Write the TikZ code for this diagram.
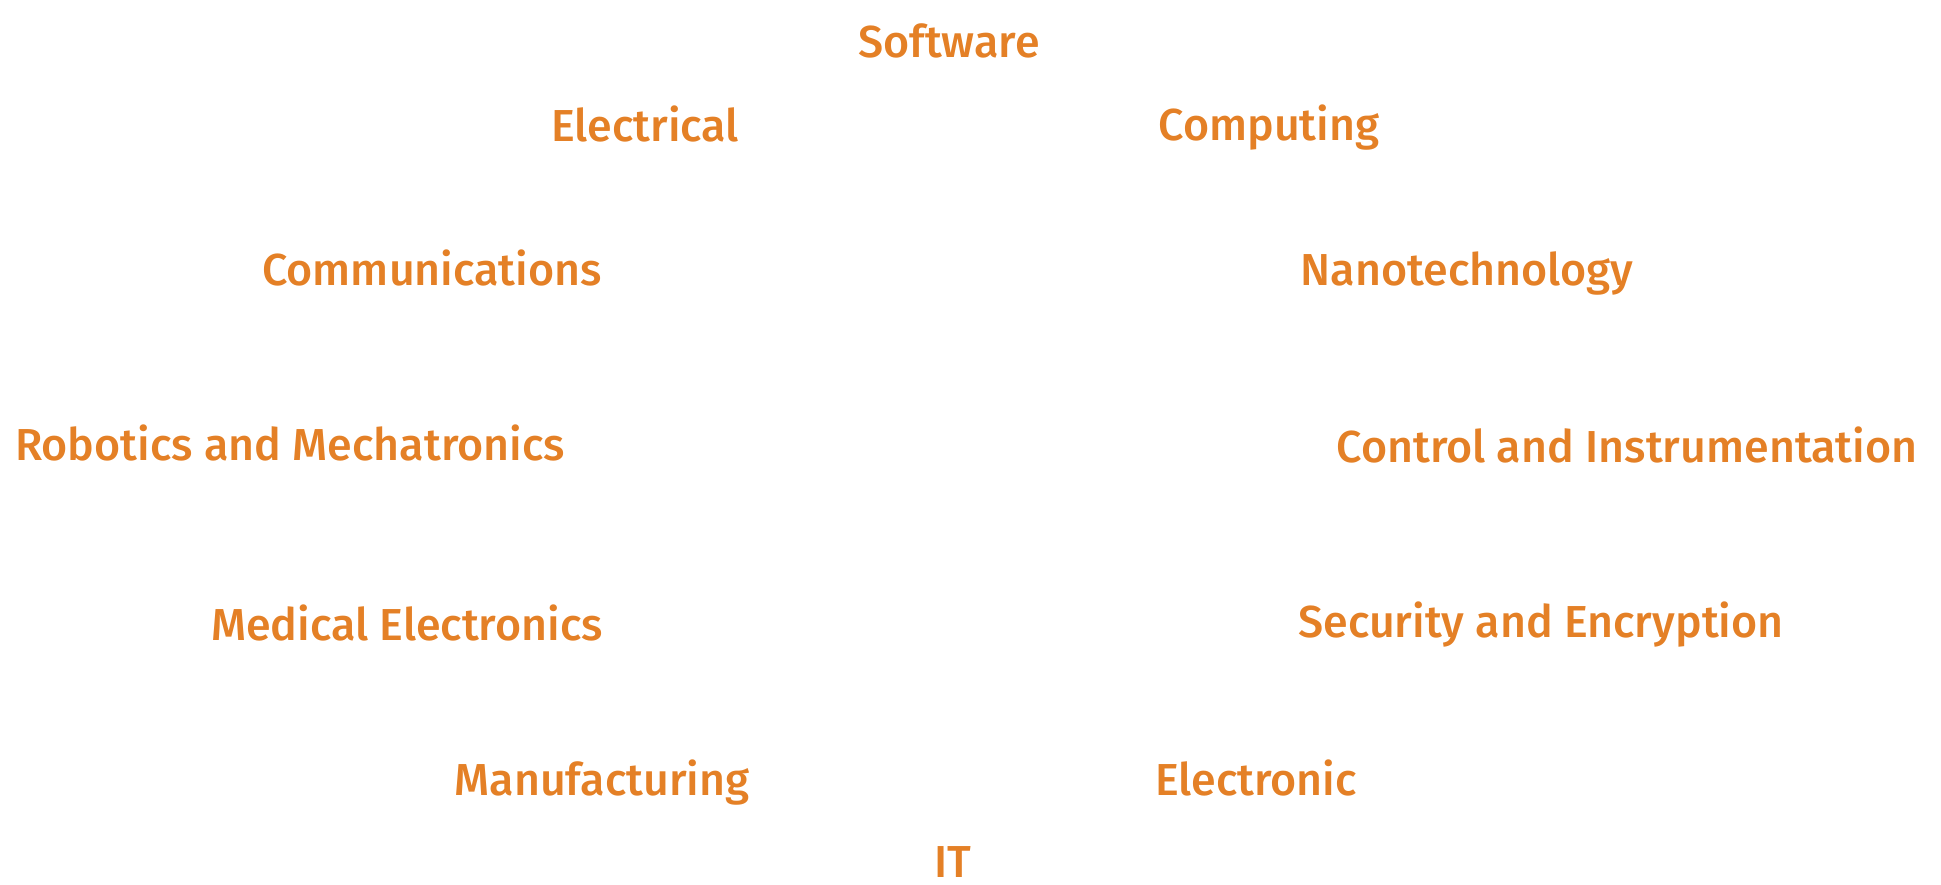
\documentclass[tikz,border=0pt]{standalone}
\usepackage{fontspec}
\setmainfont{Fira Sans}[UprightFont={* Medium}]
\usetikzlibrary{positioning}
\definecolor{fieldorange}{RGB}{228,128,38}

\begin{document}
\begin{tikzpicture}[
    x=0.5pt,y=-0.5pt,
    field/.style={text=fieldorange,font=\fontsize{22.4}{26}\selectfont,anchor=base,inner sep=0pt}]
    \useasboundingbox (0,0) rectangle (1941,884);
    \node[field] (SW) at (949,57) {Software};
    \node[field] (EL) at (645,141) {Electrical};
    \node[field] (CP) at (1269,140) {Computing};
    \node[field] (CM) at (432,285) {Communications};
    \node[field] (NT) at (1467,285) {Nanotechnology};
    \node[field] (RM) at (290,460) {Robotics and Mechatronics};
    \node[field] (CI) at (1627,462) {Control and Instrumentation};
    \node[field] (ME) at (407,640) {Medical Electronics};
    \node[field] (SE) at (1541,637) {Security and Encryption};
    \node[field] (MF) at (602,795) {Manufacturing};
    \node[field] (EC) at (1256,795) {Electronic};
    \node[field] (IT) at (953,877) {IT};
  \end{tikzpicture}
\end{document}
